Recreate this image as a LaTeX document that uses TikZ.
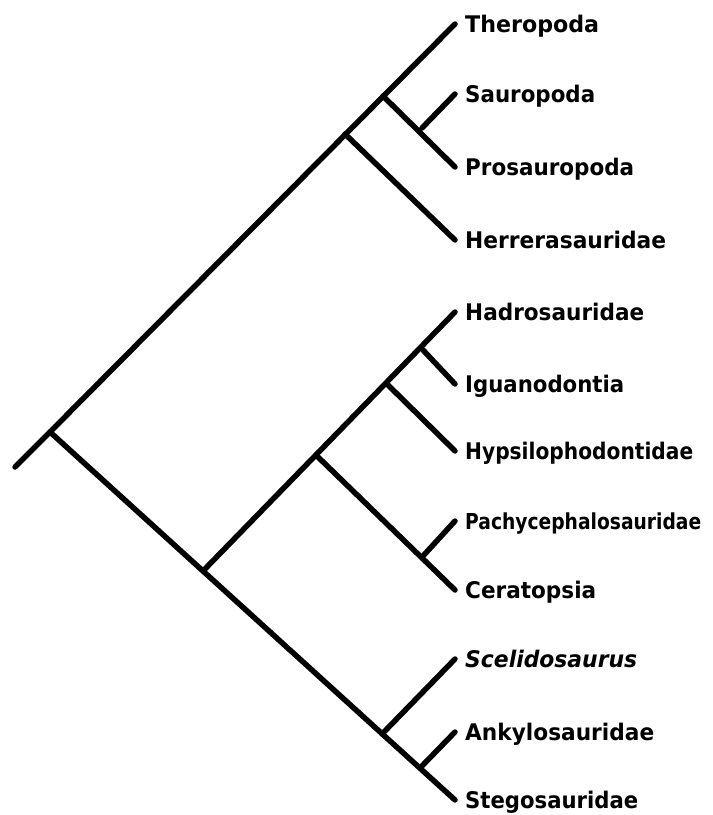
\documentclass[tikz,border=0pt]{standalone}
\usepackage{fontspec}
\usepackage{graphicx}
\newfontfamily\labfont{DejaVu Sans}
\newcommand\fitlbl[2]{\setbox0=\hbox{#2}\pgfmathsetmacro\lblratio{#1/\the\wd0}\scalebox{\lblratio}[1]{\box0}}
\begin{document}
\begin{tikzpicture}[x=1pt,y=-1pt,
  br/.style={line width=5.5pt,line cap=round,line join=round},
  lab/.style={anchor=base west,inner sep=0pt,font=\labfont\bfseries\fontsize{22.9}{26}\selectfont}]
\useasboundingbox (0,0) rectangle (713,815);
% coordinates
\coordinate (s) at (15,467);
\coordinate (n0) at (50,432);
\coordinate (t1) at (455,24);
\coordinate (nA) at (345,134);
\coordinate (nB) at (383,96);
\coordinate (nC) at (422,128);
\coordinate (t2) at (455,94);
\coordinate (t3) at (455,167);
\coordinate (t4) at (455,240);
\coordinate (nD) at (203,571);
\coordinate (t5) at (455,312);
\coordinate (nE) at (318,457);
\coordinate (nF) at (388,385);
\coordinate (nG) at (423,350);
\coordinate (t6) at (455,384);
\coordinate (t7) at (455,451);
\coordinate (nH) at (423,556);
\coordinate (t8) at (455,521);
\coordinate (t9) at (455,590);
\coordinate (nI) at (382,734);
\coordinate (t10) at (455,659);
\coordinate (nJ) at (420,768);
\coordinate (t11) at (455,732);
\coordinate (t12) at (455,800);
% branches
\draw[br] (s) -- (n0) -- (t1);
\draw[br] (nA) -- (t4);
\draw[br] (nB) -- (t3);
\draw[br] (nC) -- (t2);
\draw[br] (n0) -- (t12);
\draw[br] (nD) -- (t5);
\draw[br] (nE) -- (t9);
\draw[br] (nF) -- (t7);
\draw[br] (nG) -- (t6);
\draw[br] (nH) -- (t8);
\draw[br] (nI) -- (t10);
\draw[br] (nJ) -- (t11);
% labels
\node[lab] (L1) at ([xshift=10pt,yshift=-8pt]t1) {\fitlbl{134}{Theropoda}};
\node[lab] (L2) at ([xshift=10pt,yshift=-8pt]t2) {\fitlbl{130}{Sauropoda}};
\node[lab] (L3) at ([xshift=10pt,yshift=-8pt]t3) {\fitlbl{169}{Prosauropoda}};
\node[lab] (L4) at ([xshift=10pt,yshift=-8pt]t4) {\fitlbl{201}{Herrerasauridae}};
\node[lab] (L5) at ([xshift=10pt,yshift=-8pt]t5) {\fitlbl{179}{Hadrosauridae}};
\node[lab] (L6) at ([xshift=10pt,yshift=-8pt]t6) {\fitlbl{159}{Iguanodontia}};
\node[lab] (L7) at ([xshift=10pt,yshift=-8pt]t7) {\fitlbl{228}{Hypsilophodontidae}};
\node[lab,font=\labfont\bfseries\fontsize{22}{26}\selectfont] (L8) at ([xshift=10pt,yshift=-8pt]t8) {\fitlbl{236}{Pachycephalosauridae}};
\node[lab] (L9) at ([xshift=10pt,yshift=-8pt]t9) {\fitlbl{131}{Ceratopsia}};
\node[lab] (L10) at ([xshift=10pt,yshift=-8pt]t10) {\fitlbl{172}{\itshape Scelidosaurus}};
\node[lab] (L11) at ([xshift=10pt,yshift=-8pt]t11) {\fitlbl{189}{Ankylosauridae}};
\node[lab] (L12) at ([xshift=10pt,yshift=-8pt]t12) {\fitlbl{173}{Stegosauridae}};
\end{tikzpicture}
\end{document}
